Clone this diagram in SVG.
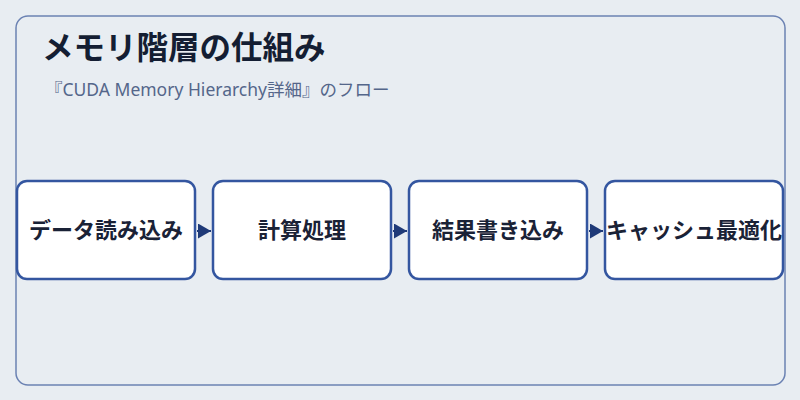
<svg xmlns="http://www.w3.org/2000/svg" width="800" height="400" viewBox="0 0 800 400">
<style>
.bg{fill:#e8edf2}
.frame{fill:#e8edf2;stroke:#6b82b3;stroke-width:1.5}
.node rect{fill:#ffffff;stroke:#3456a0;stroke-width:2.5}
.node text{font-family:"Noto Sans CJK JP","Noto Sans",sans-serif;font-size:22px;font-weight:bold;fill:#1a2236;text-anchor:middle}
.title{font-family:"Noto Sans CJK JP","Noto Sans",sans-serif;font-size:31.5px;font-weight:bold;fill:#141e33}
.sub{font-family:"Noto Sans","Noto Sans CJK JP",sans-serif;font-size:17.5px;fill:#54668a}
.conn line{stroke:#1f3a78;stroke-width:2}
</style>
<defs>
<marker id="arr" viewBox="0 0 10 10" refX="10" refY="5" markerWidth="13" markerHeight="15" markerUnits="userSpaceOnUse" preserveAspectRatio="none" orient="auto">
<path d="M0,0 L10,5 L0,10 Z" fill="#1f3a78"/>
</marker>
</defs>
<rect class="bg" x="0" y="0" width="800" height="400"/>
<rect class="frame" x="16" y="16" width="769" height="369" rx="12"/>
<text class="title" x="42" y="59">メモリ階層の仕組み</text>
<text class="sub" x="45" y="96">『CUDA Memory Hierarchy詳細』のフロー</text>
<g class="conn">
<line x1="197" y1="231" x2="211" y2="231" marker-end="url(#arr)"/>
<line x1="393" y1="231" x2="407" y2="231" marker-end="url(#arr)"/>
<line x1="589" y1="231" x2="603" y2="231" marker-end="url(#arr)"/>
</g>
<g id="n1" class="node"><rect x="17" y="181" width="178" height="98" rx="10"/><text x="106" y="238">データ読み込み</text></g>
<g id="n2" class="node"><rect x="213" y="181" width="178" height="98" rx="10"/><text x="302" y="238">計算処理</text></g>
<g id="n3" class="node"><rect x="409" y="181" width="178" height="98" rx="10"/><text x="498" y="238">結果書き込み</text></g>
<g id="n4" class="node"><rect x="605" y="181" width="178" height="98" rx="10"/><text x="694" y="238">キャッシュ最適化</text></g>
</svg>
